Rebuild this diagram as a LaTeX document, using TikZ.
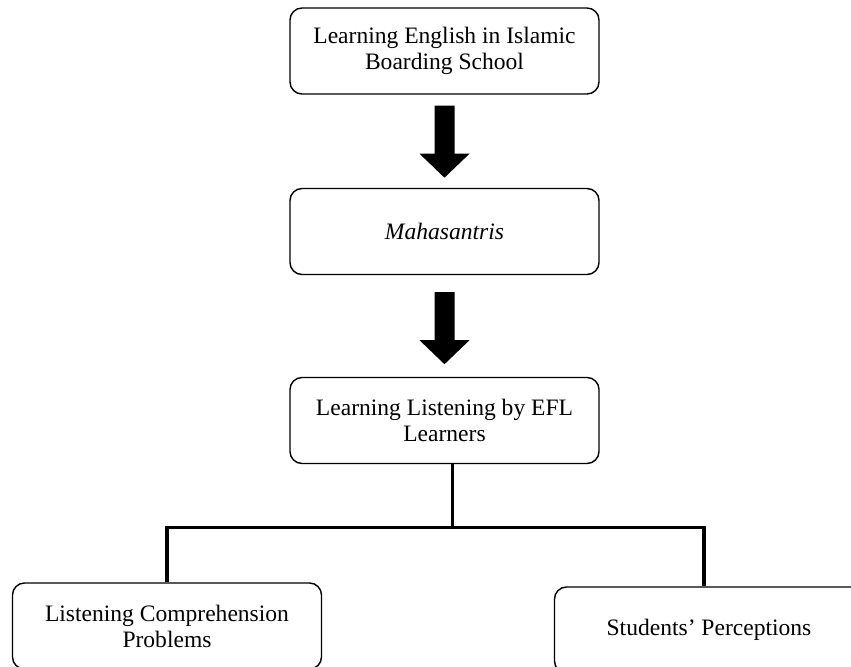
\documentclass[tikz,border=0pt]{standalone}
\usepackage{fontspec}
\setmainfont{Liberation Serif}
\usetikzlibrary{positioning}

\tikzset{
  stagebox/.style={draw, rounded corners=0.24cm, line width=0.8pt,
    minimum width=6.18cm, minimum height=1.72cm, align=center,
    font=\fontsize{13.4}{14.8}\selectfont},
  treeline/.style={line width=1.8pt}
}

\begin{document}
\begin{tikzpicture}
  \useasboundingbox (0, 0) rectangle (17.02, -13.34);
  \clip (0, 0) rectangle (17.02, -13.34);
  \pgfmathsetmacro{\sw}{0.2}
  \pgfmathsetmacro{\hw}{0.5}
  \pgfmathsetmacro{\sl}{0.96}
  \pgfmathsetmacro{\hl}{0.48}

  \node[stagebox] (english) at (8.89, -1.02)
  {Learning English in Islamic\\Boarding School};
  \node[stagebox] (santri) at (8.89, -4.63) {\textit{Mahasantris}};
  \node[stagebox] (listening) at (8.89, -8.41)
  {Learning Listening by EFL\\Learners};
  \node[stagebox] (problems) at (3.34, -12.52)
  {Listening Comprehension\\Problems};
  \node[stagebox] (perceptions) at (14.18, -12.6) {Students' Perceptions};

  \fill ([xshift=-\sw cm, yshift=-0.22cm]english.south)
  -- ++(2*\sw, 0) -- ++(0, -\sl) -- ++(\hw-\sw, 0) -- ++(-\hw, -\hl)
  -- ++(-\hw, \hl) -- ++(\hw-\sw, 0) -- cycle;
  \fill ([xshift=-\sw cm, yshift=-0.34cm]santri.south)
  -- ++(2*\sw, 0) -- ++(0, -\sl) -- ++(\hw-\sw, 0) -- ++(-\hw, -\hl)
  -- ++(-\hw, \hl) -- ++(\hw-\sw, 0) -- cycle;

  \draw[treeline] ([xshift=0.16cm]listening.south) -- ++(0, -1.26)
  coordinate (split);
  \draw[treeline] (problems.north) |- (split)
  -| ([xshift=-0.1cm]perceptions.north);
\end{tikzpicture}
\end{document}
